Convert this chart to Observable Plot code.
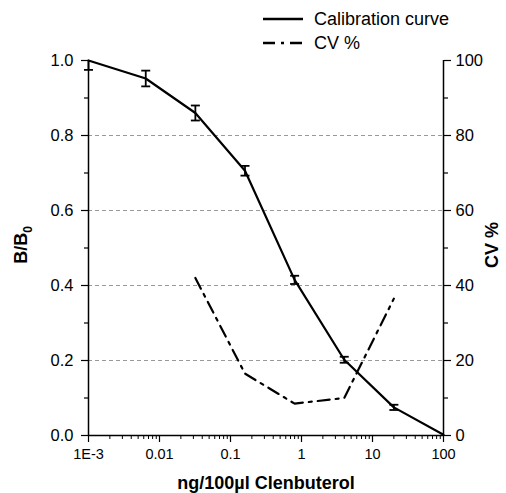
<!DOCTYPE html>
<html>
<head>
<meta charset="utf-8">
<script src="https://cdn.jsdelivr.net/npm/d3@7"></script>
<script src="https://cdn.jsdelivr.net/npm/@observablehq/plot@0.6"></script>
<style>
  html, body { margin: 0; padding: 0; background: #fff; }
  #wrap { position: relative; width: 506px; height: 493px; font-family: "Liberation Sans", Arial, sans-serif; }
  #legend { position: absolute; left: 262px; top: 7px; font-size: 18px; color: #000; }
  #legend .row { display: flex; align-items: center; height: 24px; }
  #legend svg { margin-right: 10px; }
</style>
</head>
<body>
<div id="wrap">
  <div id="chart"></div>
  <div id="legend"></div>
</div>
<script>
// Calibration curve (B/B0) with SD error bars
const conc   = [0.001, 0.0064, 0.032, 0.16, 0.8, 4, 20, 100];
const bb0    = [1.0, 0.952, 0.860, 0.706, 0.415, 0.202, 0.075, 0.002];
const bb0Err = [0.025, 0.021, 0.020, 0.013, 0.011, 0.008, 0.007, 0.0];
// CV %
const cvConc = [0.032, 0.16, 0.8, 4, 20];
const cvPct  = [42, 16.5, 8.5, 10, 36.5];
// axis ticks
const xTicks  = [0.001, 0.01, 0.1, 1, 10, 100];
const xLabels = ["1E-3", "0.01", "0.1", "1", "10", "100"];
const yTicks  = [0, 0.2, 0.4, 0.6, 0.8, 1.0];
const yMinor  = [0.1, 0.3, 0.5, 0.7, 0.9];
const cvTicks = [0, 20, 40, 60, 80, 100];
const cvMinor = [10, 30, 50, 70, 90];
const gridVals = [0.2, 0.4, 0.6, 0.8];

const xMinor = [];
for (let d = 0.001; d < 100; d *= 10) for (let k = 2; k <= 9; k++) xMinor.push(+(d * k).toPrecision(3));

const calib = conc.map((c, i) => ({x: c, y: bb0[i], lo: Math.max(0, bb0[i] - bb0Err[i]), hi: Math.min(1, bb0[i] + bb0Err[i]), e: bb0Err[i]}));
const cv = cvConc.map((c, i) => ({x: c, y: cvPct[i] / 100}));
const withErr = calib.filter(d => d.e > 0);
const caps = [];
withErr.forEach(d => {
  if (d.y - d.e >= 0) caps.push({x: d.x, y: d.y - d.e});
  if (d.y + d.e <= 1) caps.push({x: d.x, y: d.y + d.e});
});
const capSymbol = { draw(ctx) { ctx.moveTo(-4.5, 0); ctx.lineTo(4.5, 0); } };

const FY = 16.5, FX = 14.5;
const chart = Plot.plot({
  width: 506,
  height: 493,
  marginLeft: 88,
  marginRight: 63,
  marginTop: 60,
  marginBottom: 58,
  style: { fontFamily: "Liberation Sans, Arial, sans-serif", fontSize: FX + "px", color: "#000", background: "#fff" },
  x: { type: "log", domain: [0.001, 100] },
  y: { domain: [0, 1] },
  marks: [
    Plot.gridY(gridVals, { stroke: "#999", strokeOpacity: 1, strokeDasharray: "4,3", strokeWidth: 1 }),
    // axes lines
    Plot.ruleX([0.001, 100], { stroke: "#000", strokeWidth: 1.5 }),
    Plot.ruleY([0], { stroke: "#000", strokeWidth: 1.5 }),
    // left axis
    Plot.axisY({ anchor: "left", ticks: yTicks, tickFormat: d3.format(".1f"), tickSize: 7, tickPadding: 8, label: null, fontSize: FY, strokeWidth: 1.2 }),
    Plot.axisY({ anchor: "left", ticks: yMinor, tickFormat: () => "", tickSize: 4, label: null, strokeWidth: 1.2 }),
    // right axis (CV %)
    Plot.axisY({ anchor: "right", ticks: cvTicks.map(v => v / 100), tickFormat: d => String(Math.round(d * 100)), tickSize: 7, tickPadding: 5, label: null, fontSize: FY, strokeWidth: 1.2 }),
    Plot.axisY({ anchor: "right", ticks: cvMinor.map(v => v / 100), tickFormat: () => "", tickSize: 4, label: null, strokeWidth: 1.2 }),
    // bottom axis
    Plot.axisX({ anchor: "bottom", ticks: xTicks, tickFormat: d => xLabels[xTicks.indexOf(d)], tickSize: 7, tickPadding: 6, label: null, fontSize: FX, strokeWidth: 1.2 }),
    Plot.axisX({ anchor: "bottom", ticks: xMinor, tickFormat: () => "", tickSize: 4, label: null, strokeWidth: 1 }),
    // CV % dash-dot line
    Plot.line(cv, { x: "x", y: "y", stroke: "#000", strokeWidth: 2.2, strokeDasharray: "12,6,3,6" }),
    // calibration curve
    Plot.line(calib, { x: "x", y: "y", stroke: "#000", strokeWidth: 2.2 }),
    Plot.ruleX(withErr, { x: "x", y1: "lo", y2: "hi", stroke: "#000", strokeWidth: 1.8 }),
    Plot.dot(caps, { x: "x", y: "y", symbol: capSymbol, r: 4, stroke: "#000", strokeWidth: 1.8, fill: "none" })
  ]
});
document.getElementById("chart").appendChild(chart);

// axis titles
const svg = d3.select(chart);
const tFont = "Liberation Sans, Arial, sans-serif";
const yt = svg.append("text")
  .attr("transform", "translate(27,245) rotate(-90)")
  .attr("text-anchor", "middle")
  .attr("font-family", tFont).attr("font-size", 18).attr("font-weight", "bold").attr("fill", "#000");
yt.append("tspan").text("B/B");
yt.append("tspan").attr("font-size", 12).attr("dy", 5).text("0");
svg.append("text")
  .attr("transform", "translate(498,245) rotate(-90)")
  .attr("text-anchor", "middle")
  .attr("font-family", tFont).attr("font-size", 18).attr("font-weight", "bold").attr("fill", "#000")
  .text("CV %");
svg.append("text")
  .attr("x", 266).attr("y", 489)
  .attr("text-anchor", "middle")
  .attr("font-family", tFont).attr("font-size", 18).attr("font-weight", "bold").attr("fill", "#000")
  .text("ng/100\u00b5l Clenbuterol");

// legend
const legendItems = [
  { label: "Calibration curve", dash: null },
  { label: "CV %", dash: "12,6,3,6" }
];
const legend = d3.select("#legend");
legendItems.forEach(it => {
  const row = legend.append("div").attr("class", "row");
  const s = row.append("svg").attr("width", 42).attr("height", 10);
  const l = s.append("line").attr("x1", 1).attr("x2", 41).attr("y1", 5).attr("y2", 5)
    .attr("stroke", "#000").attr("stroke-width", 2.6);
  if (it.dash) l.attr("stroke-dasharray", it.dash);
  row.append("span").text(it.label);
});
</script>
</body>
</html>
